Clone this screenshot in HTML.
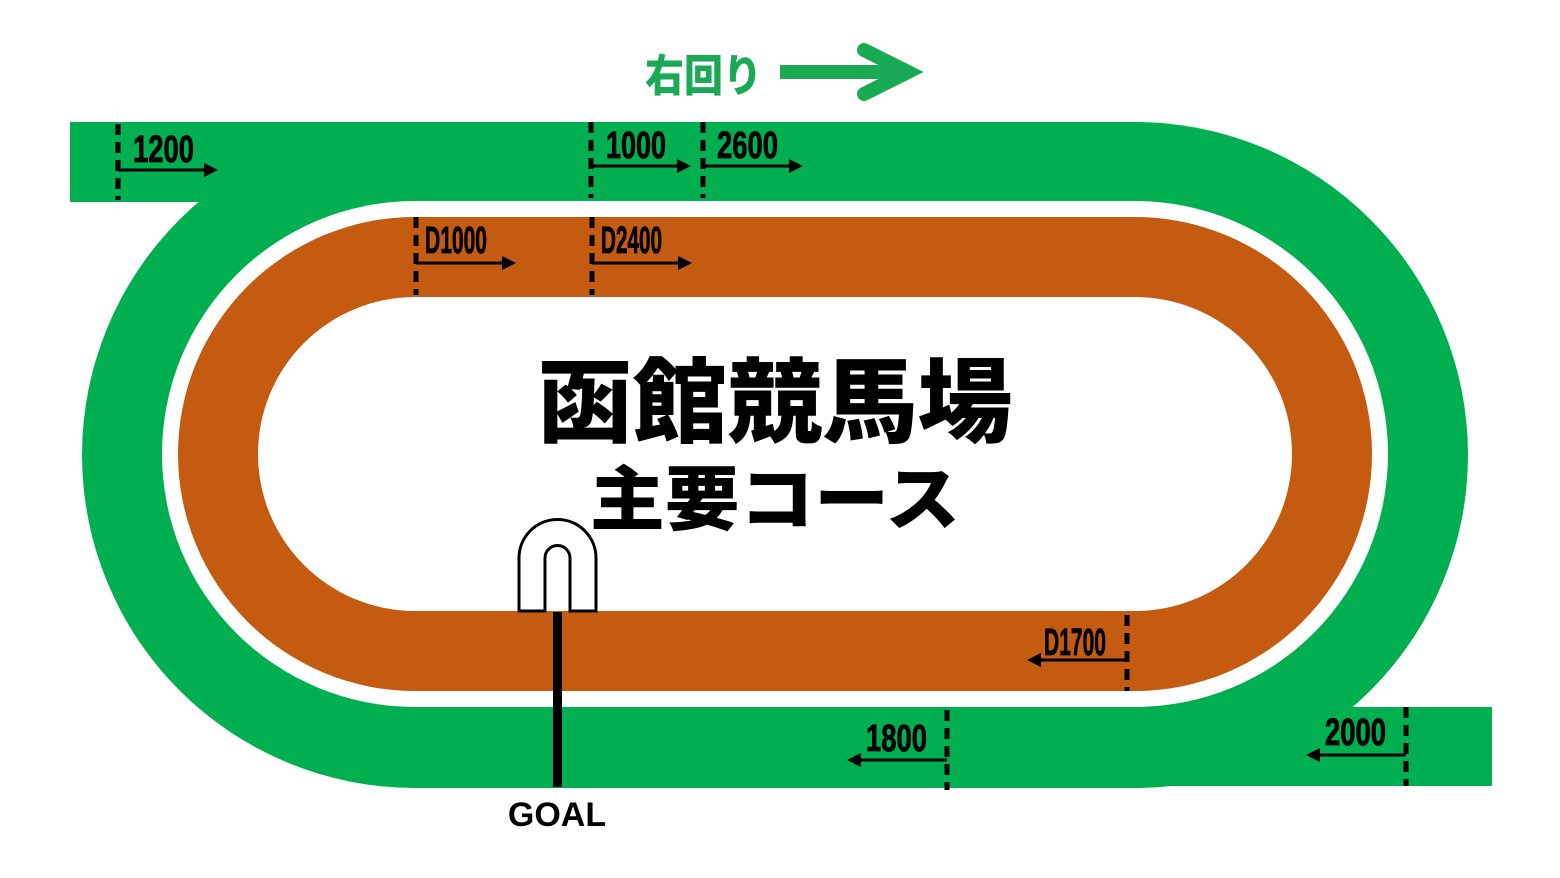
<!DOCTYPE html>
<html><head><meta charset="utf-8"><style>html,body{margin:0;padding:0;background:#fff}svg{display:block}</style></head>
<body>
<svg width="1560" height="878" viewBox="0 0 1560 878" xmlns="http://www.w3.org/2000/svg">
<rect width="1560" height="878" fill="#fff"/>
<rect x="82" y="122" width="1386" height="666" rx="333" ry="333" fill="#00b050"/>
<rect x="70" y="122" width="400" height="80" fill="#00b050"/>
<rect x="1135" y="707" width="357" height="79" fill="#00b050"/>
<rect x="162" y="201" width="1226" height="506" rx="253" ry="253" fill="#fff"/>
<rect x="178" y="217" width="1194" height="474" rx="237" ry="237" fill="#c55a11"/>
<rect x="258" y="297" width="1034" height="314" rx="157" ry="157" fill="#fff"/>

<text x="775" y="435" text-anchor="middle" font-family="'Noto Sans CJK JP',sans-serif" font-weight="900" font-size="92" textLength="475" lengthAdjust="spacingAndGlyphs" fill="#000">函館競馬場</text>
<text x="775" y="524" text-anchor="middle" font-family="'Noto Sans CJK JP',sans-serif" font-weight="900" font-size="70" textLength="370" lengthAdjust="spacingAndGlyphs" fill="#000">主要コース</text>

<text x="645" y="91" font-family="'Noto Sans CJK JP',sans-serif" font-weight="900" font-size="44" textLength="117" lengthAdjust="spacingAndGlyphs" fill="#1aaa55">右回り</text>
<line x1="780" y1="72" x2="905" y2="72" stroke="#1aaa55" stroke-width="14"/>
<polyline points="864,50 908,72 864,94" fill="none" stroke="#1aaa55" stroke-width="14" stroke-linecap="round" stroke-linejoin="miter"/>

<g font-family="'Liberation Sans Narrow','Liberation Sans',sans-serif" font-weight="bold" font-size="38" fill="#000" stroke="#000" stroke-width="0.8">
<g stroke="#000" stroke-width="5" stroke-dasharray="11 7">
<line x1="118" y1="124" x2="118" y2="200"/>
<line x1="591" y1="122" x2="591" y2="198"/>
<line x1="703" y1="122" x2="703" y2="198"/>
<line x1="416" y1="217" x2="416" y2="295"/>
<line x1="592" y1="217" x2="592" y2="295"/>
<line x1="1127" y1="615" x2="1127" y2="691"/>
<line x1="947" y1="710" x2="947" y2="790"/>
<line x1="1406" y1="707" x2="1406" y2="786"/>
</g>
<g stroke="#000" stroke-width="3">
<line x1="118" y1="170" x2="206" y2="170"/>
<line x1="591" y1="166" x2="679" y2="166"/>
<line x1="703" y1="166" x2="791" y2="166"/>
<line x1="416" y1="263" x2="504" y2="263"/>
<line x1="592" y1="263" x2="680" y2="263"/>
<line x1="1127" y1="660" x2="1039" y2="660"/>
<line x1="947" y1="760" x2="859" y2="760"/>
<line x1="1406" y1="755" x2="1318" y2="755"/>
</g>
<g stroke="none">
<polygon points="204,163 218,170 204,177"/>
<polygon points="677,159 691,166 677,173"/>
<polygon points="789,159 803,166 789,173"/>
<polygon points="502,256 516,263 502,270"/>
<polygon points="678,256 692,263 678,270"/>
<polygon points="1041,653 1027,660 1041,667"/>
<polygon points="861,753 847,760 861,767"/>
<polygon points="1320,748 1306,755 1320,762"/>
</g>
<text x="133" y="162" textLength="61" lengthAdjust="spacingAndGlyphs">1200</text>
<text x="606" y="158" textLength="60" lengthAdjust="spacingAndGlyphs">1000</text>
<text x="717" y="158" textLength="61" lengthAdjust="spacingAndGlyphs">2600</text>
<text x="425" y="253" textLength="62" lengthAdjust="spacingAndGlyphs">D1000</text>
<text x="601" y="253" textLength="61" lengthAdjust="spacingAndGlyphs">D2400</text>
<text x="1044" y="655" textLength="62" lengthAdjust="spacingAndGlyphs">D1700</text>
<text x="866" y="751" textLength="61" lengthAdjust="spacingAndGlyphs">1800</text>
<text x="1325" y="745" textLength="61" lengthAdjust="spacingAndGlyphs">2000</text>
</g>

<path d="M519,611 V558 A38.5,38.5 0 0 1 596,558 V611 H570 V558 A12.5,12.5 0 0 0 545,558 V611 Z" fill="#fff" stroke="#000" stroke-width="3"/>
<rect x="553" y="612" width="9" height="175" fill="#000"/>
<text x="557" y="826" text-anchor="middle" font-family="'Liberation Sans',sans-serif" font-weight="bold" font-size="34" fill="#000">GOAL</text>
</svg>
</body></html>
